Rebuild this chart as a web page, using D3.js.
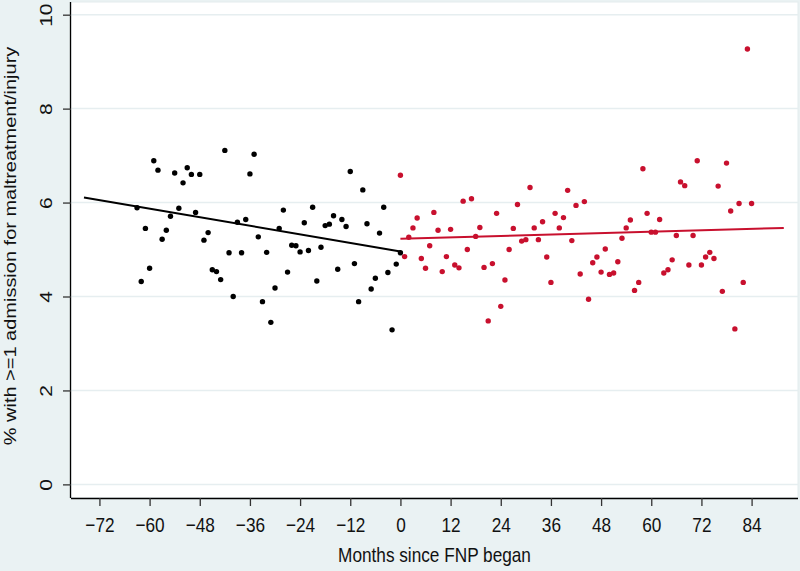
<!DOCTYPE html>
<html><head><meta charset="utf-8">
<script src="https://cdn.jsdelivr.net/npm/d3@7"></script>
<style>html,body{margin:0;padding:0;background:#EAF2F3;} svg{display:block;}</style>
</head><body>
<svg id="chart" width="800" height="571"></svg>
<script>
const preMonths = [-63,-62,-61,-60,-59,-58,-57,-56,-55,-54,-53,-52,-51,-50,-49,-48,-47,-46,-45,-44,-43,-42,-41,-40,-39,-38,-37,-36,-35,-34,-33,-32,-31,-30,-29,-28,-27,-26,-25,-24,-23,-22,-21,-20,-19,-18,-17,-16,-15,-14,-13,-12,-11,-10,-9,-8,-7,-6,-5,-4,-3,-2,-1,0];
const preValues = [5.89,4.32,5.45,4.60,6.89,6.69,5.22,5.41,5.71,6.63,5.88,6.42,6.74,6.60,5.79,6.60,5.20,5.36,4.57,4.53,4.36,7.11,4.93,4.00,5.58,4.93,5.64,6.61,7.03,5.27,3.89,4.94,3.45,4.18,5.45,5.84,4.52,5.09,5.08,4.95,5.57,4.98,5.90,4.33,5.05,5.51,5.54,5.72,4.58,5.64,5.49,6.66,4.70,3.89,6.27,5.55,4.16,4.39,5.35,5.90,4.51,3.29,4.69,4.93];
const postMonths = [0,1,2,3,4,5,6,7,8,9,10,11,12,13,14,15,16,17,18,19,20,21,22,23,24,25,26,27,28,29,30,31,32,33,34,35,36,37,38,39,40,41,42,43,44,45,46,47,48,49,50,51,52,53,54,55,56,57,58,59,60,61,62,63,64,65,66,67,68,69,70,71,72,73,74,75,76,77,78,79,80,81,82,83,84];
const postValues = [6.58,4.85,5.26,5.46,5.67,4.81,4.60,5.08,5.79,5.41,4.53,4.85,5.43,4.67,4.61,6.03,5.00,6.08,5.28,5.47,4.62,3.48,4.70,5.77,3.79,4.35,5.00,5.45,5.96,5.18,5.21,6.32,5.46,5.21,5.59,4.84,4.30,5.77,5.46,5.68,6.26,5.19,5.94,4.48,6.02,3.94,4.72,4.84,4.52,5.01,4.47,4.50,4.74,5.24,5.46,5.63,4.13,4.30,6.72,5.77,5.37,5.37,5.64,4.50,4.57,4.78,5.30,6.44,6.36,4.67,5.30,6.89,4.67,4.84,4.94,4.81,6.35,4.11,6.84,5.82,3.31,5.98,4.30,9.27,5.98];
const preFitMonths = [-75.7, 0];
const preFitValues = [6.11, 4.96];
const postFitMonths = [0, 91.7];
const postFitValues = [5.23, 5.46];
const xTicks = [-72,-60,-48,-36,-24,-12,0,12,24,36,48,60,72,84];
const yTicks = [0,2,4,6,8,10];
const xTitle = "Months since FNP began";
const yTitle = "% with >=1 admission for maltreatment/injury";

const bg = "#EAF2F3", red = "#C8102E";
const font = "'Liberation Sans', Arial, sans-serif";
const sx = 0.82;
const L = 71, R = 798, T = 2, B = 498;
const svg = d3.select("#chart");
svg.append("rect").attr("width",800).attr("height",571).attr("fill",bg);
svg.append("rect").attr("x",L).attr("y",T).attr("width",R-L).attr("height",B-T)
  .attr("fill","#fff").attr("stroke","#E3ECEE").attr("stroke-width",1);

const x = d3.scaleLinear().domain([-78.8, 95.1]).range([L, R]);
const y = d3.scaleLinear().domain([-0.29, 10.27]).range([B, T]);

// gridlines
svg.append("g").selectAll("line").data(yTicks).join("line")
  .attr("x1",L).attr("x2",R).attr("y1",d=>y(d)).attr("y2",d=>y(d))
  .attr("stroke","#E6EEF0").attr("stroke-width",1.5);

// axes
const xAxis = d3.axisBottom(x).tickValues(xTicks).tickSize(8).tickFormat(d3.format("d"));
const gx = svg.append("g").attr("transform",`translate(0,${B})`).call(xAxis);
gx.select(".domain").attr("d",`M${L},0.5H${R}`).attr("stroke","#000").attr("stroke-width",1.3);
gx.selectAll(".tick line").attr("stroke","#333").attr("stroke-width",1.3);
gx.selectAll(".tick text").attr("font-family",font).attr("font-size",21).attr("fill","#111")
  .attr("dy",null).attr("y",null).attr("transform",`translate(0,34) scale(${sx},1)`);

const yAxis = d3.axisLeft(y).tickValues(yTicks).tickSize(8).tickFormat(d3.format("d"));
const gy = svg.append("g").attr("transform",`translate(${L},0)`).call(yAxis);
gy.select(".domain").attr("d",`M-0.5,${T}V${B}`).attr("stroke","#000").attr("stroke-width",1.3);
gy.selectAll(".tick line").attr("stroke","#333").attr("stroke-width",1.3);
gy.selectAll(".tick text").attr("font-family",font).attr("font-size",21).attr("fill","#111")
  .attr("x",null).attr("dy",null).attr("text-anchor","middle")
  .attr("transform",`translate(-19,0) scale(${sx},1) rotate(-90)`);

// titles
svg.append("text").attr("transform",`translate(${(L+R)/2},562) scale(${sx},1)`).attr("text-anchor","middle")
  .attr("font-family",font).attr("font-size",21).attr("fill","#111").text(xTitle);
svg.append("text").attr("transform",`translate(16,246) scale(${sx},1) rotate(-90)`).attr("text-anchor","middle")
  .attr("font-family",font).attr("font-size",20).attr("fill","#111").text(yTitle);

// fit lines
const line = d3.line().x(d=>x(d[0])).y(d=>y(d[1]));
svg.append("path").datum(preFitMonths.map((m,i)=>[m,preFitValues[i]])).attr("d",line)
  .attr("fill","none").attr("stroke","#000").attr("stroke-width",2);
svg.append("path").datum(postFitMonths.map((m,i)=>[m,postFitValues[i]])).attr("d",line)
  .attr("fill","none").attr("stroke",red).attr("stroke-width",2);

// points
svg.append("g").selectAll("circle").data(preMonths.map((m,i)=>[m,preValues[i]])).join("circle")
  .attr("cx",d=>x(d[0])).attr("cy",d=>y(d[1])).attr("r",2.7).attr("fill","#000");
svg.append("g").selectAll("circle").data(postMonths.map((m,i)=>[m,postValues[i]])).join("circle")
  .attr("cx",d=>x(d[0])).attr("cy",d=>y(d[1])).attr("r",2.7).attr("fill",red);
</script>
</body></html>
